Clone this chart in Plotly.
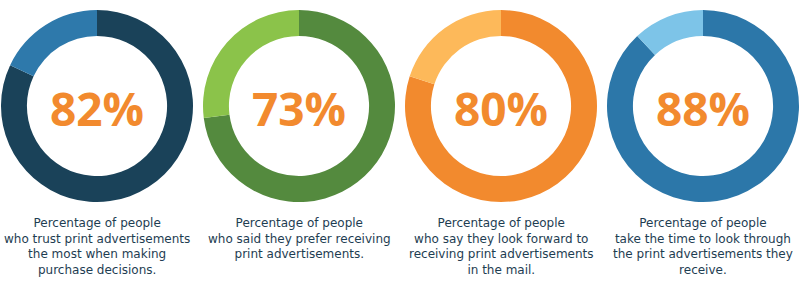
import plotly.graph_objects as go

labels = ["82%", "73%", "80%", "88%"]
values = [82, 73, 80, 88]
captions = [
    "Percentage of people<br>who trust print advertisements<br>the most when making<br>purchase decisions.",
    "Percentage of people<br>who said they prefer receiving<br>print advertisements.",
    "Percentage of people<br>who say they look forward to<br>receiving print advertisements<br>in the mail.",
    "Percentage of people<br>take the time to look through<br>the print advertisements they<br>receive.",
]
main_colors = ["#1A4259", "#548A3E", "#F28A2E", "#2C77A9"]
rest_colors = ["#2E79AB", "#8BC34A", "#FDB95A", "#7DC4E8"]

W, H = 800, 300
centers_x = [97, 299, 501, 703]
cy = 106
R = 96

fig = go.Figure()
for i, v in enumerate(values):
    cx = centers_x[i]
    fig.add_trace(go.Pie(
        values=[v, 100 - v],
        marker=dict(colors=[main_colors[i], rest_colors[i]], line=dict(width=0)),
        hole=0.73,
        sort=False,
        direction="clockwise",
        rotation=0,
        textinfo="none",
        hoverinfo="skip",
        showlegend=False,
        domain=dict(x=[(cx - R) / W, (cx + R) / W], y=[(H - cy - R) / H, (H - cy + R) / H]),
    ))
    fig.add_annotation(
        x=cx / W, y=(H - cy - 2) / H, xref="paper", yref="paper",
        text=labels[i], showarrow=False, xanchor="center", yanchor="middle",
        font=dict(family="Open Sans", size=46, color="#F28A2E", weight="bold"),
    )
    fig.add_annotation(
        x=cx / W, y=(H - 214) / H, xref="paper", yref="paper",
        text=captions[i], showarrow=False, xanchor="center", yanchor="top",
        align="center",
        font=dict(family="DejaVu Sans", size=12, color="#1E3D52"),
    )

fig.update_layout(
    width=W, height=H,
    margin=dict(l=0, r=0, t=0, b=0),
    paper_bgcolor="white", plot_bgcolor="white",
)
fig.write_html("out.html")
